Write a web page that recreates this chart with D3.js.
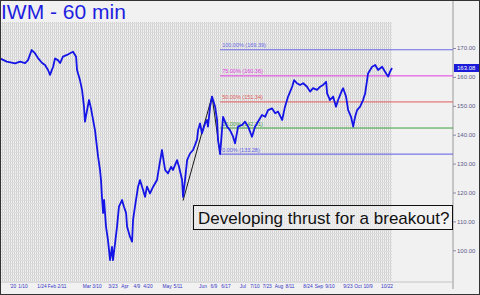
<!DOCTYPE html>
<html>
<head>
<meta charset="utf-8">
<script src="https://cdn.jsdelivr.net/npm/d3@7"></script>
<style>
  body { margin: 0; background: #f0f0f0; }
  svg { display: block; font-family: "Liberation Sans", Arial, sans-serif; }
</style>
</head>
<body>
<svg id="chart" width="480" height="295"></svg>
<script>
// trading day index (0 = left edge) and IWM price
var priceDay = [0,3.5,7.8,10.4,13,14.5,16.4,18.1,19.7,21.8,23.3,24.9,25.9,27.5,28.5,30,31.1,32.6,34.7,36.3,37.8,39.4,
  39.9,41.4,42.5,43.5,44,45.1,46.1,47.1,48.2,49.2,50.2,50.8,51.8,52.3,52.8,53.4,53.9,54.9,55.9,57,58,58.5,59.6,60.6,
  61.6,63.2,64.2,65.3,65.8,67.3,68.4,68.9,69.9,71.5,72.5,74.1,75.1,76.1,77.7,79.3,81.3,82.4,83.9,84.4,85.5,87,88.6,
  89.6,91.7,92.7,94.3,94.8,95.8,96.9,98.4,100,102,102.6,103.6,104.6,106.2,107.2,107.7,108.8,109.8,111.4,112.4,112.9,
  114,115.5,117.6,119.1,120.7,121.7,123.3,125.4,126.9,128.5,130.5,132.1,133.6,135.7,137.3,138.8,140.9,142.5,144,
  146.1,147.6,149.2,151.3,152.3,153.8,155.4,157,159,160.6,162.1,164.2,165.8,167.3,168.9,169.4,170.9,172.5,174,175.1,
  177.2,177.7,179.2,180.3,181.8,182.9,183.9,184.9,186.5,188,189.1,190.1,190.6,192.7,194.3,195.8,197.9,199.4,201,202,203];
var priceVal = [166.4,165.3,164.7,165.3,164.8,165.8,169.3,168.2,166.5,164.8,164.1,162.4,160.7,163.5,166.4,165.8,164.8,167,167.6,168.2,168.7,167,
  162.4,158.9,155.5,149.7,144.5,148.5,152,149.2,145.1,141.6,135.8,132.4,127.8,124.3,118.5,112.9,117.4,108.2,103.6,96.6,101.2,96.6,102.5,108.2,
  115.1,117.4,115.1,112.9,108.2,104.7,103,110.5,115.1,122,124.3,120.9,118.5,122,119.7,122,124.3,128.9,134.7,132.4,127.8,126.6,128.9,
  127.8,131.2,128.9,124.3,118.5,124.3,131.2,133.5,134.7,138.2,141.6,143.9,140.5,143.9,145.1,142.8,149.7,153.2,149.7,145.1,138.2,
  133.3,146.2,142.8,141.6,139.3,137,142.8,143.4,144.5,142.8,139.3,142.8,144.5,146.8,146.2,148.5,149.1,147.4,148,
  145.1,149.7,153.2,156.6,158.9,157.8,157.2,157.8,156.6,154.9,156.1,155.5,156.6,157.2,158.3,154.3,152,153.2,149.7,152,
  155.5,156.1,153.2,148.5,146.2,142.8,146.2,148.5,149.7,152,154.3,158.9,161.2,163.5,164.1,162.4,163.5,161.8,160.1,161.8,163.08];

var tickLabels = ["'20","1/10","1/24","Feb","2/11","Mar","3/10","3/23","Apr","4/9","4/20","May","5/11",
  "Jun","6/9","6/17","Jul","7/10","7/23","Aug","8/11","8/24","Sep","9/10","9/23","Oct","10/9","10/22"];
var tickDays = [6.7,11.9,21.7,26.9,32.1,45,50.2,58.5,64.7,70.9,76.6,86.5,92.2,
  105.1,110.8,117,125.8,132,138.3,144.5,150.2,159.5,165.2,170.9,180.2,185.4,190.6,200.4];

// A-B-C pivot and the fib levels projected from C
var pivotDay = [94.8, 109.8, 114];
var pivotVal = [117.2, 153.3, 133.28];
var fibPct = [100, 75, 50, 25, 0];
var fibVal = [169.39, 160.36, 151.34, 142.31, 133.28];
var fibColor = ["#6a6ae6", "#e23ce2", "#e05a5a", "#3f9f3f", "#5a5ae6"];
var lastPrice = 163.08;

var svg = d3.select("#chart");
var plotW = 392, axisX = 453, gridTop = 22, gridBot = 281;

var x = d3.scaleLinear().domain([0, 203]).range([0, plotW]);
var y = d3.scaleLinear().domain([100, 170]).range([250.3, 48]);

// hatched grid background
var defs = svg.append("defs");
var pat = defs.append("pattern").attr("id", "hatch")
  .attr("patternUnits", "userSpaceOnUse").attr("width", 2).attr("height", 3);
pat.append("rect").attr("width", 2).attr("height", 3).attr("fill", "#f0f0f0");
pat.append("rect").attr("x", 0).attr("width", 1).attr("height", 3).attr("fill", "#d2d2d2");
pat.append("rect").attr("y", 2).attr("width", 2).attr("height", 1).attr("fill", "#dcdcdc");

svg.append("rect").attr("width", 480).attr("height", 295).attr("fill", "#f1f1f1");
svg.append("rect").attr("x", 0).attr("y", gridTop).attr("width", plotW).attr("height", gridBot - gridTop)
  .attr("fill", "url(#hatch)");

// frame + axis lines
svg.append("line").attr("x1", axisX).attr("x2", axisX).attr("y1", 0).attr("y2", 289)
  .attr("stroke", "#9a9a9a").attr("stroke-width", 1);
svg.append("line").attr("x1", 0).attr("x2", axisX).attr("y1", gridBot + 1).attr("y2", gridBot + 1)
  .attr("stroke", "#c4c4c4");

// title
svg.append("text").attr("x", 1).attr("y", 19)
  .style("font-size", "21px").attr("fill", "#1e1ee0")
  .text("IWM - 60 min");

// fib levels
fibVal.forEach(function (v, i) {
  svg.append("line")
    .attr("x1", x(pivotDay[2])).attr("x2", axisX)
    .attr("y1", y(v)).attr("y2", y(v))
    .attr("stroke", fibColor[i]).attr("stroke-width", 1);
  svg.append("text")
    .attr("x", x(pivotDay[2]) + 2).attr("y", y(v) - 2.5)
    .style("font-size", "5.5px").attr("fill", fibColor[i])
    .text(d3.format(".2f")(fibPct[i]) + "% (" + d3.format(".2f")(v) + ")");
});

// pivot line
var pivotLine = d3.line().x(function (d) { return x(d[0]); }).y(function (d) { return y(d[1]); });
svg.append("path")
  .attr("d", pivotLine(d3.zip(pivotDay, pivotVal)))
  .attr("fill", "none").attr("stroke", "#1a1a1a").attr("stroke-width", 1);

// price
var priceLine = d3.line().x(function (d) { return x(d[0]); }).y(function (d) { return y(d[1]); });
svg.append("path")
  .attr("d", priceLine(d3.zip(priceDay, priceVal)))
  .attr("fill", "none").attr("stroke", "#1414e6").attr("stroke-width", 1.8)
  .attr("stroke-linejoin", "round");

// right axis
var yAxis = d3.axisRight(y).tickValues(d3.range(100, 171, 10))
  .tickFormat(d3.format(".2f")).tickSize(3).tickPadding(1);
var ya = svg.append("g").attr("transform", "translate(" + axisX + ",0)").call(yAxis);
ya.select(".domain").remove();
ya.selectAll("line").attr("stroke", "#8a8aa8");
ya.selectAll("text").style("font-size", "6px").attr("fill", "#5a5a8a")
  .style("font-family", "'Liberation Sans', Arial, sans-serif");

// last price tag
svg.append("rect").attr("x", axisX + 1).attr("y", y(lastPrice) - 4).attr("width", 25).attr("height", 8)
  .attr("fill", "#1a1ad8");
svg.append("text").attr("x", axisX + 4).attr("y", y(lastPrice) + 2.2)
  .style("font-size", "6px").attr("fill", "#fff").text(d3.format(".2f")(lastPrice));

// bottom date labels
svg.append("g").selectAll("text").data(tickLabels).enter().append("text")
  .attr("x", function (d, i) { return x(tickDays[i]); })
  .attr("y", 288)
  .attr("text-anchor", "middle")
  .style("font-size", "4.8px").attr("fill", "#3434c4")
  .text(function (d) { return d; });

// annotation
svg.append("rect").attr("x", 193.5).attr("y", 205.5).attr("width", 259).attr("height", 24)
  .attr("fill", "#f2f2f2").attr("fill-opacity", 0.55).attr("stroke", "#111").attr("stroke-width", 1);
svg.append("text").attr("x", 198).attr("y", 223.5)
  .style("font-size", "17px").attr("fill", "#111")
  .text("Developing thrust for a breakout?");

// outer frame
svg.append("rect").attr("x", 0.5).attr("y", 0.5).attr("width", 479).attr("height", 294)
  .attr("fill", "none").attr("stroke", "#333").attr("stroke-width", 1);
</script>
</body>
</html>
